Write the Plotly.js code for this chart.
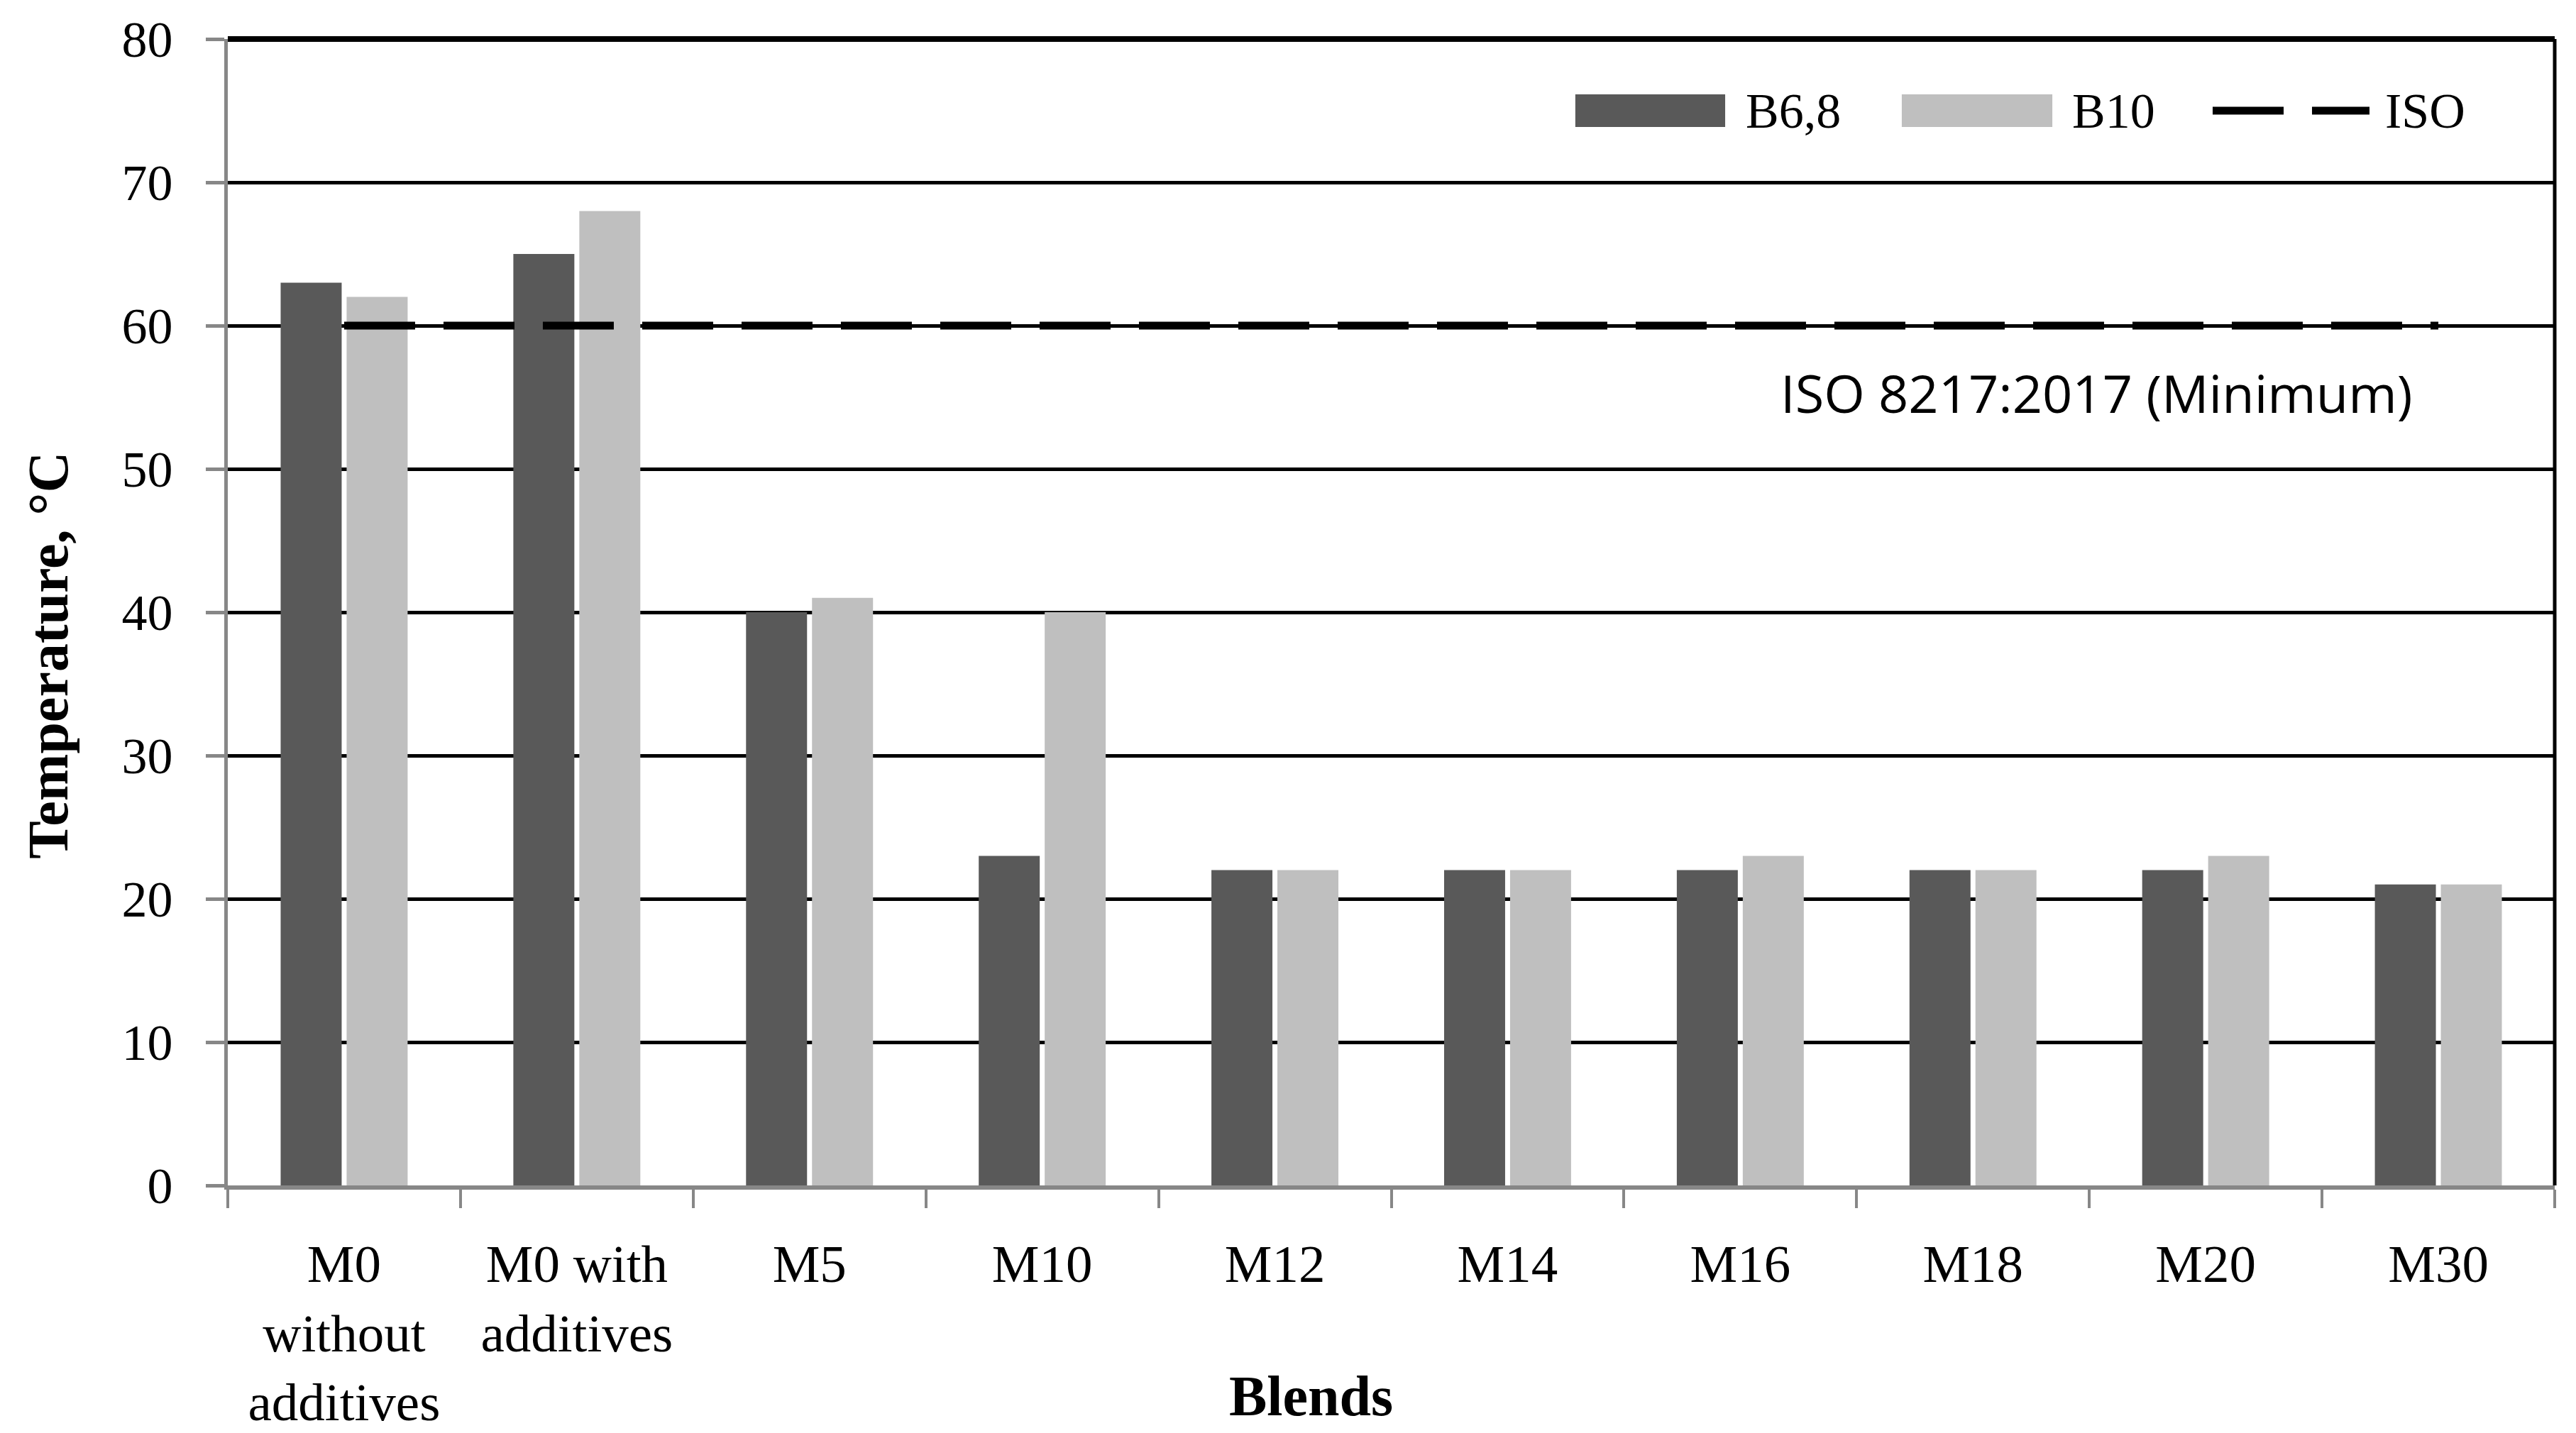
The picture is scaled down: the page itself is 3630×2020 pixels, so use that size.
<!DOCTYPE html>
<html>
<head>
<meta charset="utf-8">
<script src="https://cdn.plot.ly/plotly-3.0.1.min.js"></script>
<style>
  html, body { margin: 0; padding: 0; background: #fff; }
  #chart { width: 3630px; height: 2020px; }
</style>
</head>
<body>
<div id="chart"></div>
<script>
// Blend categories (x axis)
const blends = [
    'M0<br>without<br>additives', 'M0 with<br>additives', 'M5', 'M10', 'M12',
    'M14', 'M16', 'M18', 'M20', 'M30'
];
// Temperature, °C
const b68 = [63, 65, 40, 23, 22, 22, 22, 22, 22, 21];
const b10 = [62, 68, 41, 40, 22, 22, 23, 22, 23, 21];
// ISO 8217:2017 minimum
const iso = [60, 60, 60, 60, 60, 60, 60, 60, 60, 60];
const seriesNames = ['B6,8', 'B10', 'ISO'];
const yTicks = [0, 10, 20, 30, 40, 50, 60, 70, 80];

const SERIF = '"Liberation Serif", "DejaVu Serif", serif';
const DARK = '#595959';
const LIGHT = '#bfbfbf';
const AXIS_GREY = '#878787';
const ISO_DASH = '100px,40px';

const data = [
    { type: 'bar', x: blends, y: b68, name: seriesNames[0],
      marker: { color: DARK } },
    { type: 'bar', x: blends, y: b10, name: seriesNames[1],
      marker: { color: LIGHT } },
    { type: 'scatter', mode: 'lines', x: blends, y: iso, name: seriesNames[2],
      line: { color: '#000', width: 11, dash: ISO_DASH } }
];

// hand-made legend (plotly's bar swatches are too small at this size)
const legY0 = 0.9233, legY1 = 0.9517, legYc = 0.9375;
const legendShapes = [
    { type: 'rect', xref: 'paper', yref: 'paper', x0: 0.5791, x1: 0.6435, y0: legY0, y1: legY1,
      fillcolor: DARK, line: { width: 0 } },
    { type: 'rect', xref: 'paper', yref: 'paper', x0: 0.7194, x1: 0.7841, y0: legY0, y1: legY1,
      fillcolor: LIGHT, line: { width: 0 } },
    { type: 'line', xref: 'paper', yref: 'paper', x0: 0.8530, x1: 0.9204, y0: legYc, y1: legYc,
      line: { color: '#000', width: 11, dash: ISO_DASH } }
];
const legendLabels = [0.6517, 0.7920, 0.9265].map((x, i) => ({
    xref: 'paper', yref: 'paper', x: x, y: legYc, xanchor: 'left', yanchor: 'middle',
    text: seriesNames[i], showarrow: false, font: { family: SERIF, size: 70, color: '#000' }
}));

// axis titles sit off-centre in the original, so they are annotations
const titleFont = { family: SERIF, size: 80, color: '#000' };
const axisTitles = [
    { xref: 'paper', yref: 'paper', x: 0.4654, y: -0.1838, xanchor: 'center', yanchor: 'middle',
      text: '<b>Blends</b>', showarrow: false, font: titleFont },
    { xref: 'paper', yref: 'paper', x: -0.0772, y: 0.4623, xanchor: 'center', yanchor: 'middle',
      text: '<b>Temperature, °C</b>', textangle: -90, showarrow: false, font: titleFont }
];

const layout = {
    width: 3630, height: 2020,
    margin: { l: 321, r: 30, t: 55, b: 349 },
    paper_bgcolor: '#fff', plot_bgcolor: '#fff',
    showlegend: false,
    barmode: 'group', bargap: 0.433, bargroupgap: 0.075,
    font: { family: SERIF, size: 76, color: '#000' },
    xaxis: {
        type: 'category',
        showline: true, linecolor: AXIS_GREY, linewidth: 6,
        ticks: 'outside', tickson: 'boundaries', ticklen: 26, tickwidth: 4, tickcolor: AXIS_GREY,
        ticklabelstandoff: 40,
        showgrid: false, zeroline: false,
        tickfont: { family: SERIF, size: 75, color: '#000' },
        automargin: false
    },
    yaxis: {
        range: [0, 80], tickvals: yTicks,
        showline: true, linecolor: AXIS_GREY, linewidth: 5,
        ticks: 'outside', ticklen: 26, tickwidth: 5, tickcolor: AXIS_GREY,
        ticklabelstandoff: 32,
        showgrid: true, gridcolor: '#000', gridwidth: 5, zeroline: false,
        tickfont: { family: SERIF, size: 72, color: '#000' },
        automargin: false
    },
    shapes: legendShapes.concat([
        // frame: top and right edges are black
        { type: 'line', xref: 'paper', yref: 'paper', x0: 0, x1: 1, y0: 1, y1: 1,
          line: { color: '#000', width: 8 } },
        { type: 'line', xref: 'paper', yref: 'paper', x0: 1, x1: 1, y0: 0, y1: 1,
          line: { color: '#000', width: 5 } }
    ]),
    annotations: legendLabels.concat(axisTitles, [
        { xref: 'paper', yref: 'y', x: 0.8030, y: 55.3, xanchor: 'center', yanchor: 'middle',
          text: 'ISO 8217:2017 (Minimum)', showarrow: false,
          font: { family: '"Open Sans", "Noto Sans", sans-serif', size: 74, color: '#000' } }
    ])
};

Plotly.newPlot('chart', data, layout, { staticPlot: true, displayModeBar: false });
</script>
</body>
</html>
